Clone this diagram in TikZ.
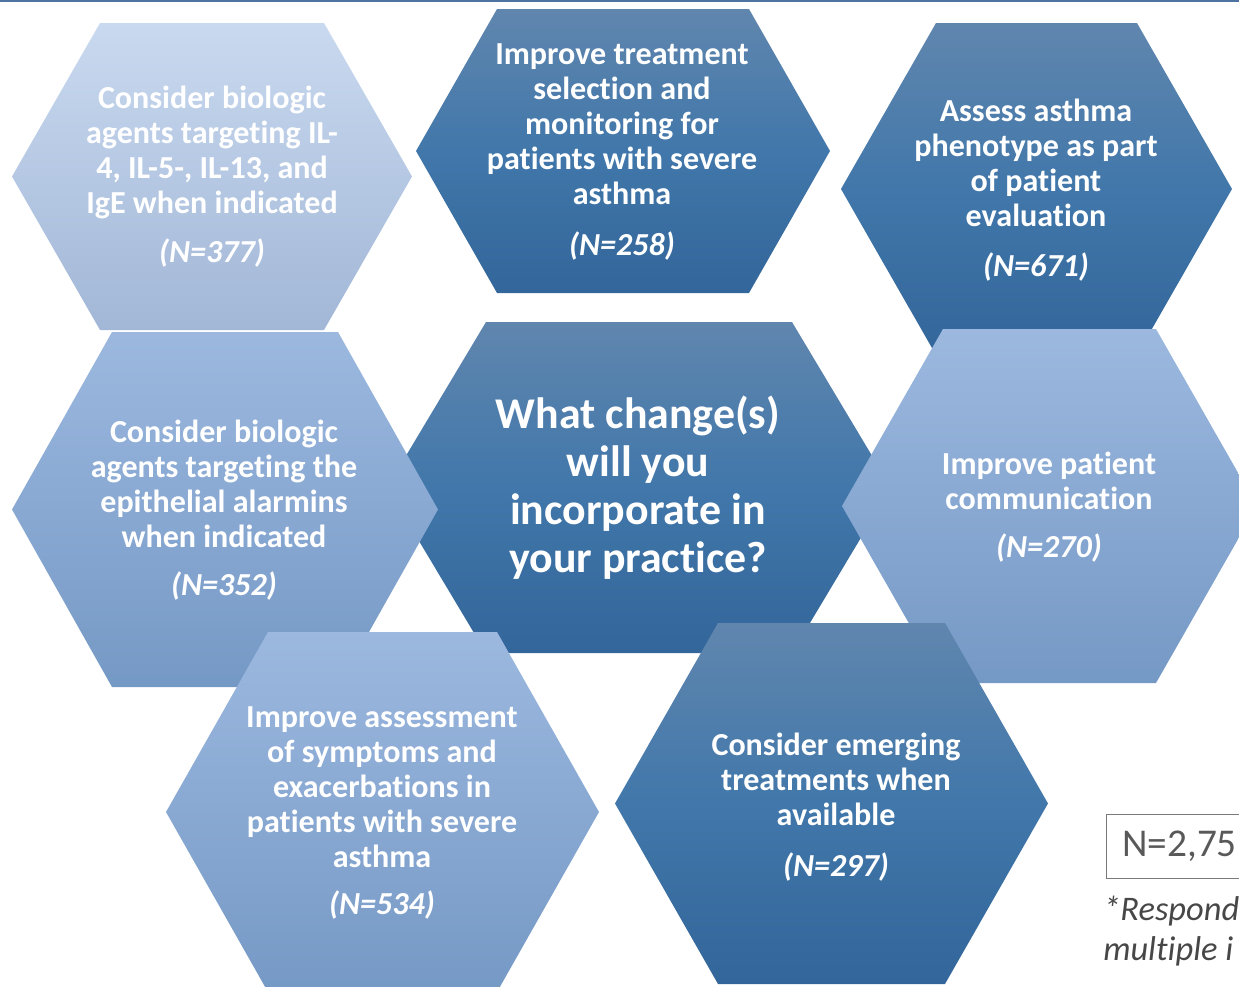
\documentclass[tikz,border=0pt]{standalone}
\usepackage{fontspec}
\setmainfont{Carlito}[RawFeature={-liga;-clig;-calt;-dlig}]
\usepackage{tikz}
\usetikzlibrary{positioning}

\definecolor{hexLightTop}{HTML}{C9D9EF}
\definecolor{hexLightBot}{HTML}{A2B7D7}
\definecolor{hexMidTop}{HTML}{9CB8DF}
\definecolor{hexMidBot}{HTML}{7599C5}
\definecolor{hexDarkTop}{HTML}{6086AE}
\definecolor{hexDarkMid}{HTML}{4177AA}
\definecolor{hexDarkBot}{HTML}{33669A}
\definecolor{ruleBlue}{HTML}{4D73A0}
\definecolor{noteGray}{HTML}{595959}

% flat-topped hexagon: centre x, centre y, half width, half height, slant, style
\newcommand{\hexcell}[6]{%
  \path[#6] (#1-#3,#2) -- (#1-#3+#5,#2-#4) -- (#1+#3-#5,#2-#4) -- (#1+#3,#2)
    -- (#1+#3-#5,#2+#4) -- (#1-#3+#5,#2+#4) -- cycle;}

\begin{document}
\begin{tikzpicture}[
    x=0.025cm, y=-0.025cm,
    hexlight/.style={top color=hexLightTop, bottom color=hexLightBot},
    hexmid/.style={top color=hexMidTop, bottom color=hexMidBot},
    hexdark/.style={top color=hexDarkTop, bottom color=hexDarkBot, middle color=hexDarkMid},
    hextext/.style={align=center, text=white, inner sep=0pt, font=\bfseries\fontsize{22.8}{24.9}\selectfont},
    question/.style={align=center, text=white, inner sep=0pt, font=\bfseries\fontsize{31.2}{34.1}\selectfont},
    countbox/.style={draw=noteGray!80, line width=1pt, text=noteGray, align=left, text width=4cm, inner xsep=11pt, minimum height=45.5pt, font=\fontsize{28}{33}\selectfont},
    note/.style={align=left, text=noteGray!80!black, inner sep=0pt, font=\itshape\fontsize{24.5}{28.4}\selectfont},
    topline/.style={ruleBlue, line width=1.5pt}
]
\useasboundingbox (0,0) rectangle (1239,987);

\draw[topline] (0,1) -- (1239,1);

% hexagons, back to front
\hexcell{1036.5}{189}{195.5}{166}{95}{hexdark}
\hexcell{212}{176.5}{200}{153.5}{88}{hexlight}
\hexcell{623}{151}{207}{142}{81}{hexdark}
\hexcell{639}{487.5}{252}{165.5}{99}{hexdark}
\hexcell{225}{509.5}{213}{177.5}{100}{hexmid}
\hexcell{1049.5}{506}{207.5}{177}{101}{hexmid}
\hexcell{382.5}{812}{216.5}{180}{102}{hexmid}
\hexcell{831.5}{803.5}{216.5}{180.5}{103}{hexdark}

% labels
\node[hextext] (biologicIL) at (212,177) {Consider biologic\\agents targeting IL-\\4, IL-5-, IL-13, and\\IgE when indicated\\[10pt]\textit{(N=377)}};
\node[hextext] (selection) at (622,152) {Improve treatment\\selection and\\monitoring for\\patients with severe\\asthma\\[11pt]\textit{(N=258)}};
\node[hextext] (phenotype) at (1036,190) {Assess asthma\\phenotype as part\\of patient\\evaluation\\[11pt]\textit{(N=671)}};
\node[question] (question) at (638,488) {What change(s)\\will you\\incorporate in\\your practice?};
\node[hextext] (alarmins) at (224,510) {Consider biologic\\agents targeting the\\epithelial alarmins\\when indicated\\[9pt]\textit{(N=352)}};
\node[hextext] (communication) at (1049,507) {Improve patient\\communication\\[9pt]\textit{(N=270)}};
\node[hextext] (assessment) at (382,813) {Improve assessment\\of symptoms and\\exacerbations in\\patients with severe\\asthma\\[9pt]\textit{(N=534)}};
\node[hextext] (emerging) at (836,807) {Consider emerging\\treatments when\\available\\[11pt]\textit{(N=297)}};

% respondent count and footnote
\node[countbox, anchor=north west] (total) at (1106,814) {N=2,75};
\node[note, anchor=north west] (footnote) at (1103,896) {*Respond\\multiple i};

\end{tikzpicture}
\end{document}
